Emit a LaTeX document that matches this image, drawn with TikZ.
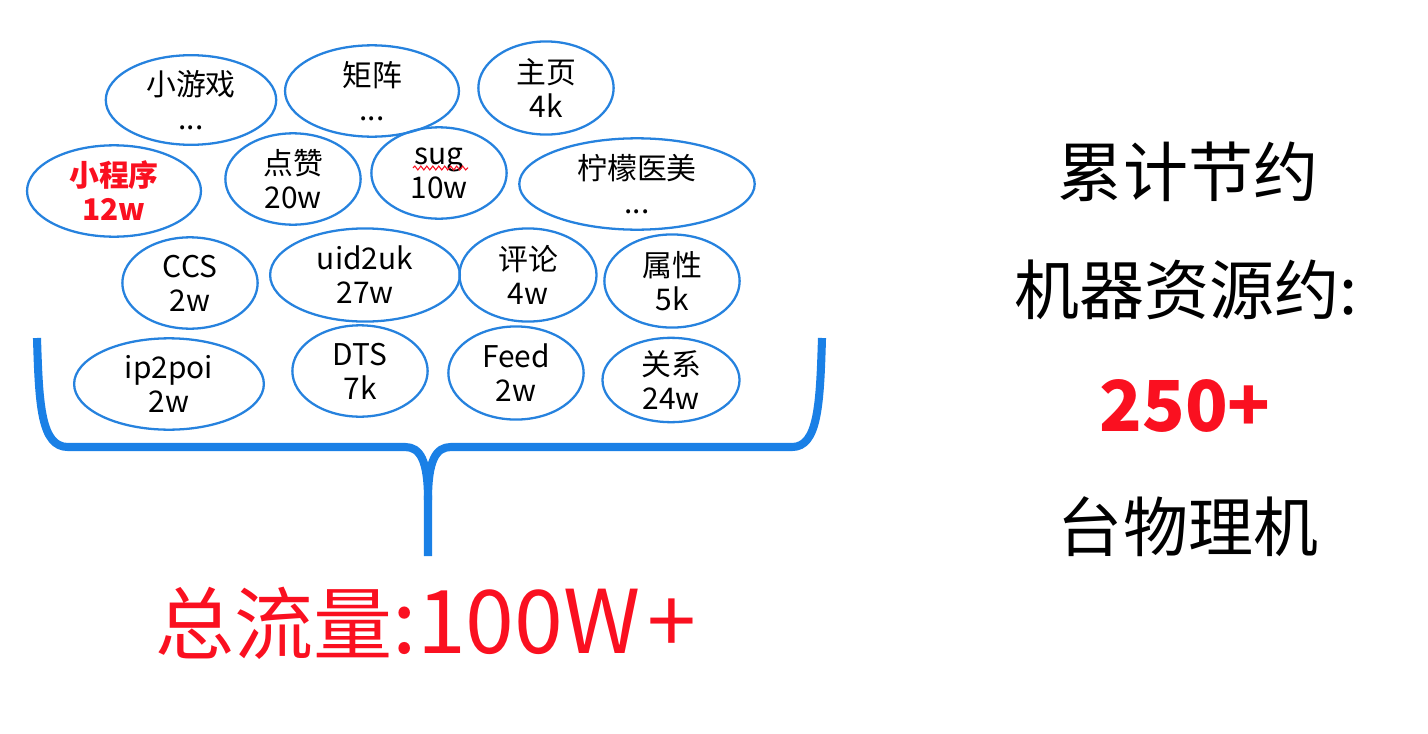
\documentclass[tikz,border=0pt]{standalone}
\usepackage{fontspec}
\setmainfont{Noto Sans CJK SC}
\usetikzlibrary{shapes.geometric,decorations.pathmorphing}
\definecolor{BubbleBlue}{RGB}{38,130,222}
\definecolor{BraceBlue}{RGB}{26,128,230}
\definecolor{HotRed}{RGB}{250,16,32}
\newcommand{\BubbleFont}{\fontsize{17}{19.3}\selectfont}
\newcommand{\BigFont}{\fontsize{37}{40}\selectfont}

\tikzset{
  bubble/.style={draw=BubbleBlue, line width=1.3pt, ellipse, inner sep=0pt,
    align=center, font=\BubbleFont},
  small/.style={bubble, minimum width=77pt, minimum height=52pt},
  brace/.style={draw=BraceBlue, line width=4.6pt, line join=round},
  sidetext/.style={font=\BigFont}
}

\begin{document}
\begin{tikzpicture}[x=0.02cm,y=-0.02cm]
\useasboundingbox (0,0) rectangle (1428,734);

% first row
\node[bubble, minimum width=97pt, minimum height=51pt] (game) at (191,100) {小游戏\\...};
\node[bubble, minimum width=99pt, minimum height=52pt] (matrix) at (372,91) {矩阵\\...};
\node[small, minimum height=53pt] (home) at (546,88) {主页\\4k};

% second row
\node[bubble, minimum width=99pt, minimum height=52pt, text=HotRed,
  font=\BubbleFont\bfseries] (mini) at (114,191) {小程序\\12w};
\node[small] (like) at (293,179) {点赞\\20w};
\node[small] (sug) at (439,173) {sug\\10w};
\node[bubble, minimum width=134pt, minimum height=52pt] (lemon) at (637,184) {柠檬医美\\...};

% third row
\node[small] (ccs) at (190,283) {CCS\\2w};
\node[bubble, minimum width=108pt, minimum height=53pt] (uid) at (365,275) {uid2uk\\27w};
\node[small, minimum width=78pt, minimum height=53pt] (comment) at (528,275) {评论\\4w};
\node[small, minimum height=53pt] (attr) at (672,281) {属性\\5k};

% fourth row
\node[bubble, minimum width=108pt, minimum height=52pt] (ippoi) at (169,384) {ip2poi\\2w};
\node[small] (dts) at (360,371) {DTS\\7k};
\node[small, minimum height=53pt] (feed) at (516,373) {Feed\\2w};
\node[small, minimum width=78pt, minimum height=48pt] (rel) at (671,380) {关系\\24w};

% spell check line under sug
\draw[HotRed, line width=0.6pt, decorate,
  decoration={snake, segment length=3.4pt, amplitude=1.1pt}] (413,168) -- (468,168);

% the brace
\draw[brace] (37,338) .. controls (39,405) and (41,447) .. (68,447) -- (405,447)
  .. controls (420,447) and (428,460) .. (428,500) -- (428,556);
\draw[brace] (822,338) .. controls (820,405) and (818,447) .. (792,447) -- (451,447)
  .. controls (436,447) and (428,460) .. (428,500);

\node[anchor=base, text=HotRed] (total) at (426,653)
  {\fontsize{45}{50}\selectfont 总流量\fontsize{50}{54}\selectfont:100W\kern4pt+};

% right side
\node[sidetext] (save) at (1188,172) {累计节约};
\node[sidetext] (res) at (1186,290) {机器资源约:};
\node[sidetext, text=HotRed, font=\fontsize{40}{44}\selectfont\bfseries] (num) at (1185,406) {250+};
\node[sidetext] (mach) at (1188,527) {台物理机};
\end{tikzpicture}
\end{document}
